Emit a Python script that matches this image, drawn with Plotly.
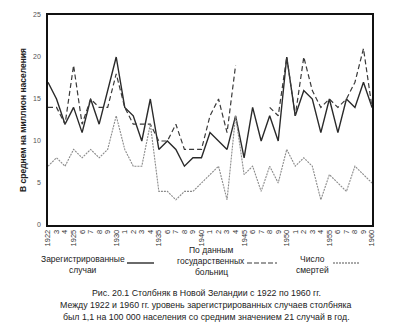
import plotly.graph_objects as go

years = list(range(1922, 1961))
registered = [17, 15, 12, 14, 11, 15, 12, 16, 20, 14, 13, 10, 15, 9, 10, 9, 7, 8, 8, 11,
              10, 9, 13, 8, 14, 10, 13, 10, 20, 13, 16, 15, 11, 15, 11, 15, 14, 17, 14]
hospital = [14, 14, 12, 19, 12, 15, 14, 14, 18, 14, 12, 12, 12, 10, 10, 12, 9, 9, 9, 13,
            15, 11, 19, None, None, None, 14, 13, 20, 13, 20, 16, 14, 15, 14, 15, 17, 21, 14]
deaths = [7, 8, 7, 9, 8, 9, 8, 9, 13, 9, 7, 7, 12, 4, 4, 3, 4, 4, 5, 6,
          7, 3, 13, 6, 7, 4, 7, 5, 9, 7, 8, 7, 3, 6, 5, 4, 7, 6, 5]
tick_text = [str(y) if y % 5 == 0 or y == 1922 else str(y % 10) for y in years]
y_ticks = [0, 5, 10, 15, 20, 25]

W, H = 402, 332
L, R, T, B = 48, 372, 15, 225

def px(x):
    return (x - L) / (R - L)

def py(y):
    return (B - y) / (B - T)

fig = go.Figure()
fig.add_trace(go.Scatter(x=years, y=registered, mode="lines",
                         line=dict(color="#2a2a2a", width=1.4), connectgaps=False))
fig.add_trace(go.Scatter(x=years, y=hospital, mode="lines",
                         line=dict(color="#3a3a3a", width=1.2, dash="5px,3px"), connectgaps=False))
fig.add_trace(go.Scatter(x=years, y=deaths, mode="lines",
                         line=dict(color="#8a8a8a", width=1.1, dash="2px,1px"), connectgaps=False))

font = "Liberation Sans, Arial, sans-serif"
annotations = []
def txt(x, y, s, size=8.5, color="#222", bold=False, angle=0):
    annotations.append(dict(x=px(x), y=py(y), xref="paper", yref="paper", text=(f"<b>{s}</b>" if bold else s),
                            showarrow=False, xanchor="center", yanchor="middle", textangle=angle,
                            font=dict(family=font, size=size, color=color)))

txt(23, 120, "В среднем на миллион населения", size=8.5, bold=True, angle=-90)
txt(83, 259, "Зарегистрированные")
txt(83, 270, "случаи")
txt(211, 250, "По данным")
txt(211, 261, "государственных")
txt(211, 272, "больниц")
txt(312, 259, "Число")
txt(312, 270, "смертей")
txt(206, 293, "Рис. 20.1 Столбняк в Новой Зеландии с 1922 по 1960 гг.", size=8.8)
txt(206, 305, "Между 1922 и 1960 гг. уровень зарегистрированных случаев столбняка", size=8.8)
txt(206, 317, "был 1,1 на 100 000 населения со средним значением 21 случай в год.", size=8.8)

shapes = [
    dict(type="line", xref="paper", yref="paper", x0=px(127), x1=px(154), y0=py(263), y1=py(263),
         line=dict(color="#2a2a2a", width=1.4)),
    dict(type="line", xref="paper", yref="paper", x0=px(247), x1=px(277), y0=py(263), y1=py(263),
         line=dict(color="#3a3a3a", width=1.2, dash="5px,2px")),
    dict(type="line", xref="paper", yref="paper", x0=px(333), x1=px(359), y0=py(263), y1=py(263),
         line=dict(color="#555", width=1.1, dash="2px,1px")),
]

fig.update_layout(
    width=W, height=H,
    margin=dict(l=L, r=W - R, t=T, b=H - B),
    paper_bgcolor="white", plot_bgcolor="white",
    showlegend=False,
    annotations=annotations, shapes=shapes,
    xaxis=dict(range=[1922, 1960], tickmode="array", tickvals=years, ticktext=tick_text,
               tickangle=-90, showgrid=False, zeroline=False, showline=True, mirror=True,
               linecolor="#111", linewidth=1.5, ticks="",
               tickfont=dict(family=font, size=7.5, color="#333")),
    yaxis=dict(range=[0, 25], tickmode="array", tickvals=y_ticks, showgrid=False, zeroline=False,
               showline=True, mirror=True, linecolor="#111", linewidth=1.5, ticks="",
               ticklabelstandoff=4,
               tickfont=dict(family=font, size=7, color="#555")),
)

fig.write_html("out.html")
